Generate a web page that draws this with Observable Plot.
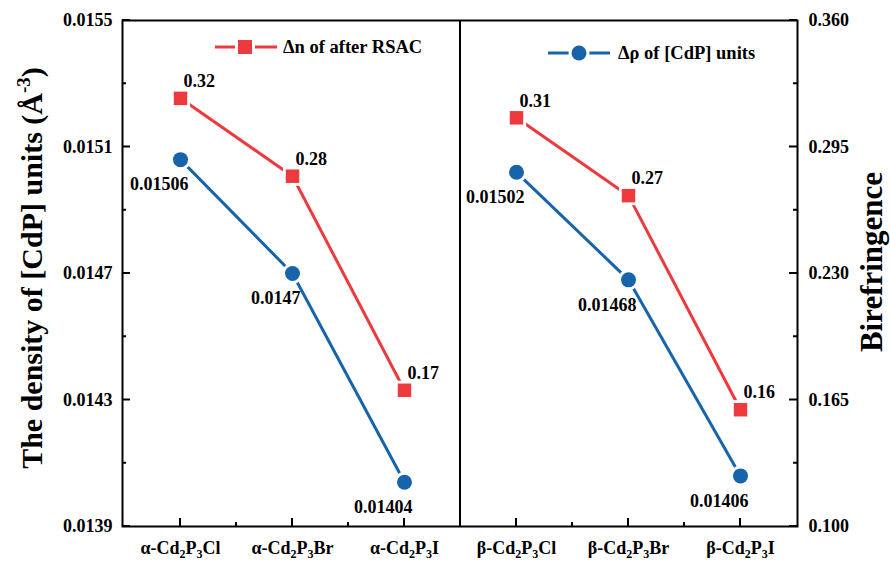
<!DOCTYPE html>
<html><head><meta charset="utf-8">
<script src="https://cdn.jsdelivr.net/npm/d3@7"></script>
<script src="https://cdn.jsdelivr.net/npm/@observablehq/plot@0.6"></script>
<style>body{margin:0;background:#fff}</style>
</head><body><div id="chart"></div>
<script>
const categories = ["α-Cd2P3Cl","α-Cd2P3Br","α-Cd2P3I","β-Cd2P3Cl","β-Cd2P3Br","β-Cd2P3I"];
const groups = ["α","α","α","β","β","β"];
const density = [0.01506,0.0147,0.01404,0.01502,0.01468,0.01406];
const biref = [0.32,0.28,0.17,0.31,0.27,0.16];
const densityLabels = ["0.01506","0.0147","0.01404","0.01502","0.01468","0.01406"];
const birefLabels = ["0.32","0.28","0.17","0.31","0.27","0.16"];
const leftTicks = [0.0139,0.0143,0.0147,0.0151,0.0155];
const rightTicks = [0.100,0.165,0.230,0.295,0.360];
const leftDomain = [0.0139,0.0155];
const rightDomain = [0.100,0.360];

const toLeft = v => leftDomain[0] + (v-rightDomain[0])/(rightDomain[1]-rightDomain[0])*(leftDomain[1]-leftDomain[0]);
const fromLeft = v => rightDomain[0] + (v-leftDomain[0])/(leftDomain[1]-leftDomain[0])*(rightDomain[1]-rightDomain[0]);

const FONT = "'Liberation Serif','Times New Roman',serif";
const RED = "#ec3a3f", BLUE = "#1764ab";

const data = categories.map((c,i)=>({cat:c, group:groups[i], dens:density[i], bire:toLeft(biref[i]), dl:densityLabels[i], bl:birefLabels[i]}));

const plot = Plot.plot({
  width:890, height:562, marginLeft:122, marginRight:93, marginTop:20, marginBottom:36,
  style:{fontFamily:FONT, fontWeight:"bold", fontSize:"18px", background:"#fff", color:"#000", overflow:"visible"},
  x:{type:"band", domain:categories, padding:0, label:null},
  y:{domain:leftDomain, label:null},
  marks:[
    Plot.axisX({tickSize:0, tickPadding:15, fontSize:18, label:null}),
    Plot.axisY({anchor:"left", ticks:leftTicks, tickSize:0, tickPadding:10, tickFormat:d=>d.toFixed(4), label:null}),
    Plot.axisY({anchor:"right", ticks:rightTicks.map(toLeft), tickSize:0, tickPadding:11, tickFormat:d=>fromLeft(d).toFixed(3), label:null}),
    Plot.line(data,{x:"cat",y:"bire",z:"group",stroke:RED,strokeWidth:3}),
    Plot.line(data,{x:"cat",y:"dens",z:"group",stroke:BLUE,strokeWidth:3}),
    Plot.dot(data,{x:"cat",y:"bire",symbol:"square",r:10.8,fill:"#fff",stroke:null}),
    Plot.dot(data,{x:"cat",y:"bire",symbol:"square",r:7.6,fill:RED,stroke:null}),
    Plot.dot(data,{x:"cat",y:"dens",symbol:"circle",r:10.5,fill:"#fff",stroke:null}),
    Plot.dot(data,{x:"cat",y:"dens",symbol:"circle",r:7.5,fill:BLUE,stroke:null}),
    Plot.text(data,{x:"cat",y:"bire",text:"bl",textAnchor:"start",dx:3,dy:-17,fontSize:18}),
    Plot.text(data,{x:"cat",y:"dens",text:"dl",textAnchor:"end",dx:8,dy:25,fontSize:18}),
    Plot.frame({stroke:"#000",strokeWidth:2})
  ]
});
document.getElementById("chart").appendChild(plot);

const svg = d3.select(plot);
const xs = plot.scale("x"), ys = plot.scale("y");
const [L, R] = xs.range;
const B = Math.max(...ys.range), T = Math.min(...ys.range);
const bw = xs.bandwidth;

// inward ticks
const tg = svg.append("g").attr("stroke","#000").attr("stroke-width",2);
leftTicks.forEach(v=>{
  const y = ys.apply(v);
  tg.append("line").attr("x1",L).attr("x2",L+8).attr("y1",y).attr("y2",y);
  tg.append("line").attr("x1",R).attr("x2",R-8).attr("y1",y).attr("y2",y);
});
for(let i=0;i<leftTicks.length-1;i++){
  const y = ys.apply((leftTicks[i]+leftTicks[i+1])/2);
  tg.append("line").attr("x1",L).attr("x2",L+4).attr("y1",y).attr("y2",y);
  tg.append("line").attr("x1",R).attr("x2",R-4).attr("y1",y).attr("y2",y);
}
categories.forEach((c,i)=>{
  const x = xs.apply(c)+bw/2;
  tg.append("line").attr("x1",x).attr("x2",x).attr("y1",B).attr("y2",B-8);
  if(i%3!==0){
    const xb = xs.apply(c);
    tg.append("line").attr("x1",xb).attr("x2",xb).attr("y1",B).attr("y2",B-4);
  }
});
// divider between α and β
const xd = xs.apply(categories[3]);
tg.append("line").attr("x1",xd).attr("x2",xd).attr("y1",T).attr("y2",B);

// subscripts in x tick labels
svg.selectAll('g[aria-label="x-axis tick label"] text').each(function(){
  const t = this.textContent;
  const el = d3.select(this); el.text(null);
  const parts = t.split(/(\d)/).filter(s=>s.length);
  let sub = false;
  parts.forEach(p=>{
    if(/\d/.test(p)){
      el.append("tspan").attr("dy",4).attr("font-size",12).text(p);
      sub = true;
    } else {
      const ts = el.append("tspan").text(p);
      if(sub){ ts.attr("dy",-4); sub=false; }
    }
  });
});

// legends
const lg = svg.append("g").attr("font-family",FONT).attr("font-weight","bold").attr("font-size",18.5).attr("text-anchor","start");
lg.append("line").attr("x1",215).attr("x2",277).attr("y1",47).attr("y2",47).attr("stroke",RED).attr("stroke-width",3);
lg.append("rect").attr("x",245-10).attr("y",47-10).attr("width",20).attr("height",20).attr("fill","#fff");
lg.append("rect").attr("x",245-7).attr("y",47-7).attr("width",14).attr("height",14).attr("fill",RED);
lg.append("text").attr("x",283).attr("y",47).attr("dy","0.35em").text("Δn of after RSAC");
lg.append("line").attr("x1",548).attr("x2",610).attr("y1",53).attr("y2",53).attr("stroke",BLUE).attr("stroke-width",3);
lg.append("circle").attr("cx",579).attr("cy",53).attr("r",10.5).attr("fill","#fff");
lg.append("circle").attr("cx",579).attr("cy",53).attr("r",7.5).attr("fill",BLUE);
lg.append("text").attr("x",618).attr("y",53).attr("dy","0.35em").text("Δρ of [CdP] units");

// axis titles
const lt = svg.append("text").attr("transform","translate(42,268) rotate(-90)").attr("text-anchor","middle")
  .attr("font-family",FONT).attr("font-weight","bold").attr("font-size",30);
lt.append("tspan").text("The density of [CdP] units (Å");
lt.append("tspan").attr("dy",-12).attr("font-size",19).text("-3");
lt.append("tspan").attr("dy",12).text(")");
svg.append("text").attr("transform","translate(882,262) rotate(-90)").attr("text-anchor","middle")
  .attr("font-family",FONT).attr("font-weight","bold").attr("font-size",31).text("Birefringence");
</script>
</body></html>
